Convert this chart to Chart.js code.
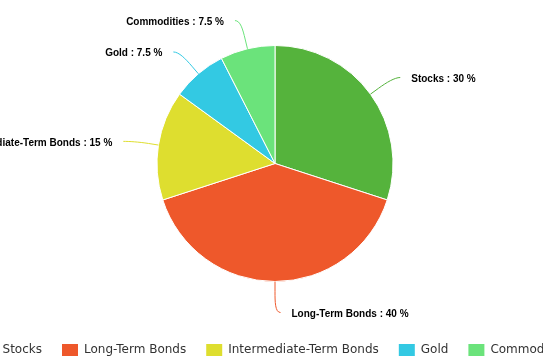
<!DOCTYPE html>
<html>
<head>
<meta charset="utf-8">
<script src="https://cdn.jsdelivr.net/npm/chart.js@4"></script>
<style>
  html, body { margin: 0; padding: 0; background: #fff; overflow: hidden; width: 543px; height: 362px; }
  #wrap { position: absolute; left: -75px; top: 0; width: 700px; height: 366px; }
</style>
</head>
<body>
<div id="wrap"><canvas id="allocation"></canvas></div>
<script>
'use strict';

// portfolio split
var categories = ['Stocks', 'Long-Term Bonds', 'Intermediate-Term Bonds', 'Gold', 'Commodities'];
var shares = [30, 40, 15, 7.5, 7.5];
var sliceColors = ['#55b33c', '#ee582b', '#dede2f', '#33c9e3', '#6be37b'];

// labels outside the pie, with a soft connector back to the slice
var outsideLabels = {
  id: 'outsideLabels',
  afterDatasetsDraw: function(chart) {
    var ctx = chart.ctx;
    var meta = chart.getDatasetMeta(0);
    var dist = 30;
    ctx.save();
    meta.data.forEach(function(arc, i) {
      var p = arc.getProps(['x', 'y', 'startAngle', 'endAngle', 'outerRadius']);
      var mid = (p.startAngle + p.endAngle) / 2;
      var cos = Math.cos(mid), sin = Math.sin(mid);
      var r = p.outerRadius;
      var left = cos < -0.001;
      var sign = left ? -1 : 1;
      var ex = p.x + cos * r, ey = p.y + sin * r;
      var mx = p.x + cos * (r + 10), my = p.y + sin * (r + 10);
      var m2x = p.x + cos * (r + 20), m2y = p.y + sin * (r + 20);
      var ax = p.x + cos * (r + dist), ay = p.y + sin * (r + dist) + 1;

      ctx.beginPath();
      ctx.moveTo(ax + sign * 5.5, ay);
      ctx.bezierCurveTo(ax, ay, m2x, m2y, mx, my);
      ctx.lineTo(ex, ey);
      ctx.strokeStyle = sliceColors[i];
      ctx.lineWidth = 1;
      ctx.stroke();

      ctx.font = 'bold 10px "Liberation Sans", Arial, sans-serif';
      ctx.fillStyle = '#000';
      ctx.textBaseline = 'middle';
      ctx.textAlign = left ? 'right' : 'left';
      ctx.fillText(categories[i] + ' : ' + shares[i] + ' %', ax + sign * 16.5, ay + 1.5);
    });
    ctx.restore();
  }
};

Chart.defaults.font.family = '"DejaVu Sans", sans-serif';

var ctx = document.getElementById('allocation').getContext('2d');
var chart = new Chart(ctx, {
  type: 'pie',
  data: {
    labels: categories,
    datasets: [{
      data: shares,
      backgroundColor: sliceColors,
      borderColor: '#ffffff',
      borderWidth: 1,
      radius: 118
    }]
  },
  options: {
    responsive: true,
    maintainAspectRatio: false,
    animation: false,
    layout: {
      padding: { top: 3 }
    },
    plugins: {
      tooltip: { enabled: false },
      legend: {
        position: 'bottom',
        labels: {
          boxWidth: 16,
          boxHeight: 12,
          padding: 20,
          color: '#333333',
          font: { size: 12 },
          generateLabels: function(c) {
            var items = Chart.overrides.pie.plugins.legend.labels.generateLabels(c);
            items.forEach(function(it) { it.lineWidth = 0; });
            return items;
          }
        }
      }
    }
  },
  plugins: [outsideLabels]
});
</script>
</body>
</html>
